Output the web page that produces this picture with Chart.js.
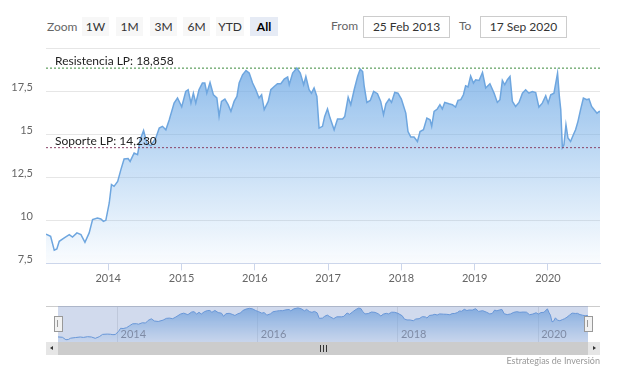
<!DOCTYPE html>
<html>
<head>
<meta charset="utf-8">
<script src="https://cdn.jsdelivr.net/npm/chart.js@4"></script>
<style>
  body { margin: 0; background: #fff; font-family: Lato, "Open Sans", sans-serif; }
  #wrap { position: relative; width: 619px; height: 375px; overflow: hidden; }
  .abs { position: absolute; }
  .txt { color: #666; font-size: 12px; line-height: 20px; }
  .btn { top: 17px; height: 19px; line-height: 19px; text-align: center; font-size: 12px; color: #333; background: #f7f7f7; }
  .btn.on { background: #e6ebf5; font-weight: bold; color: #000; }
  .box { top: 16px; height: 20px; line-height: 20px; border: 1px solid #ccc; text-align: center; font-size: 12px; color: #333; }
  canvas { position: absolute; left: 0; }
</style>
</head>
<body>
<div id="wrap">
  <span class="abs txt" style="left:47px;top:17px">Zoom</span>
  <div class="abs btn" style="left:82px;width:27px">1W</div>
  <div class="abs btn" style="left:116px;width:27px">1M</div>
  <div class="abs btn" style="left:150px;width:27px">3M</div>
  <div class="abs btn" style="left:183px;width:27px">6M</div>
  <div class="abs btn" style="left:216px;width:28px">YTD</div>
  <div class="abs btn on" style="left:250px;width:28px">All</div>
  <span class="abs txt" style="left:331px;top:16px">From</span>
  <div class="abs box" style="left:363px;width:85px">25 Feb 2013</div>
  <span class="abs txt" style="left:459px;top:16px">To</span>
  <div class="abs box" style="left:480px;width:85px">17 Sep 2020</div>

  <canvas id="main" width="619" height="256" style="top:40px"></canvas>
  <canvas id="nav" width="619" height="36" style="top:306px"></canvas>

  <!-- navigator decorations -->
  <div class="abs" style="left:46px;top:306px;width:554px;height:1px;background:#ccc"></div>
  <div class="abs" style="left:58px;top:306px;width:530px;height:36px;background:rgba(102,133,194,0.3)"></div>
  <div class="abs" style="left:54px;top:316px;width:7px;height:14px;background:#f2f2f2;border:1px solid #999"></div>
  <div class="abs" style="left:57px;top:320px;width:0;height:7px;border-left:1px solid #999"></div>
  <div class="abs" style="left:584px;top:316px;width:7px;height:14px;background:#f2f2f2;border:1px solid #999"></div>
  <div class="abs" style="left:587px;top:320px;width:0;height:7px;border-left:1px solid #999"></div>
  <!-- scrollbar -->
  <div class="abs" style="left:46px;top:342px;width:554px;height:13px;background:#f2f2f2"></div>
  <div class="abs" style="left:58px;top:342px;width:530px;height:13px;background:#ccc"></div>
  <div class="abs" style="left:46px;top:342px;width:12px;height:13px;background:#e6e6e6"></div>
  <div class="abs" style="left:588px;top:342px;width:12px;height:13px;background:#e6e6e6"></div>
  <div class="abs" style="left:50px;top:346px;width:0;height:0;border-top:2.5px solid transparent;border-bottom:2.5px solid transparent;border-right:3px solid #333"></div>
  <div class="abs" style="left:593px;top:346px;width:0;height:0;border-top:2.5px solid transparent;border-bottom:2.5px solid transparent;border-left:3px solid #333"></div>
  <div class="abs" style="left:320px;top:345px;width:1px;height:7px;background:#333"></div>
  <div class="abs" style="left:323px;top:345px;width:1px;height:7px;background:#333"></div>
  <div class="abs" style="left:326px;top:345px;width:1px;height:7px;background:#333"></div>

  <span class="abs" style="right:19px;top:355px;font-size:9px;color:#999;line-height:12px">Estrategias de Inversión</span>
</div>

<script>
const dates = [
  '2013-02-25','2013-03-20','2013-04-07','2013-04-20','2013-05-02','2013-05-27','2013-06-21','2013-07-07',
  '2013-07-29','2013-08-18','2013-09-07','2013-09-28','2013-10-15','2013-11-08','2013-11-25','2013-12-08',
  '2013-12-20','2014-01-06','2014-01-17','2014-01-30','2014-02-17','2014-03-05','2014-03-21','2014-04-10',
  '2014-04-20','2014-05-10','2014-05-27','2014-06-09','2014-06-26','2014-07-12','2014-08-01','2014-08-26',
  '2014-09-12','2014-09-28','2014-10-15','2014-11-01','2014-11-25','2014-12-12','2015-01-02','2015-01-22',
  '2015-02-03','2015-02-17','2015-03-01','2015-03-13','2015-03-29','2015-04-15','2015-04-27','2015-05-07',
  '2015-05-23','2015-06-09','2015-06-26','2015-07-07','2015-07-19','2015-08-05','2015-08-21','2015-09-04',
  '2015-09-20','2015-10-04','2015-10-15','2015-11-01','2015-11-18','2015-12-04','2015-12-21','2016-01-06',
  '2016-01-22','2016-02-04','2016-02-17','2016-03-08','2016-03-21','2016-04-07','2016-04-23','2016-05-10',
  '2016-05-27','2016-06-13','2016-06-21','2016-07-08','2016-07-29','2016-08-15','2016-09-01','2016-09-12',
  '2016-09-28','2016-10-10','2016-10-23','2016-11-06','2016-11-17','2016-12-04','2016-12-15','2016-12-29',
  '2017-01-11','2017-01-31','2017-02-17','2017-03-14','2017-03-25','2017-04-11','2017-04-24','2017-05-11',
  '2017-05-28','2017-06-10','2017-06-22','2017-06-30','2017-07-13','2017-07-30','2017-08-16','2017-09-04',
  '2017-09-20','2017-10-04','2017-10-16','2017-11-01','2017-11-13','2017-11-29','2017-12-15','2018-01-01',
  '2018-01-23','2018-02-03','2018-02-17','2018-03-05','2018-03-22','2018-04-04','2018-04-21','2018-05-08',
  '2018-05-24','2018-06-01','2018-06-13','2018-06-29','2018-07-12','2018-07-24','2018-08-05','2018-08-26',
  '2018-09-12','2018-09-28','2018-10-10','2018-10-24','2018-11-06','2018-11-17','2018-11-29','2018-12-12',
  '2018-12-26','2019-01-06','2019-01-23','2019-02-09','2019-02-25','2019-03-18','2019-04-08','2019-04-24',
  '2019-05-07','2019-05-19','2019-05-31','2019-06-13','2019-06-26','2019-07-08','2019-07-24','2019-08-10',
  '2019-08-27','2019-09-12','2019-09-28','2019-10-15','2019-11-01','2019-11-17','2019-12-04','2019-12-21',
  '2020-01-02','2020-01-15','2020-01-31','2020-02-18','2020-02-27','2020-03-05','2020-03-13','2020-03-21',
  '2020-03-31','2020-04-10','2020-04-23','2020-05-07','2020-05-18','2020-05-30','2020-06-12','2020-06-26',
  '2020-07-13','2020-07-24','2020-08-06','2020-08-19','2020-09-02','2020-09-13','2020-09-17'
];
const prices = [
  9.2, 9.07, 8.26, 8.34, 8.78, 8.98, 9.17, 9.03,
  9.27, 9.17, 8.72, 9.27, 10.04, 10.14, 10.08, 9.94,
  10.0, 11.01, 12.08, 11.98, 12.27, 12.95, 13.57, 13.6,
  13.43, 13.92, 13.82, 14.69, 15.23, 14.5, 14.34, 14.79,
  15.37, 15.47, 15.27, 15.85, 16.82, 17.12, 16.6, 17.5,
  17.6, 16.82, 17.4, 16.82, 17.6, 17.99, 17.99, 17.4,
  18.02, 17.3, 17.12, 16.05, 16.92, 17.06, 16.73, 16.34,
  16.92, 17.21, 17.99, 18.47, 18.72, 18.57, 17.99, 17.6,
  17.12, 17.31, 16.44, 16.92, 17.6, 17.79, 17.95, 17.95,
  18.22, 18.34, 17.89, 18.57, 18.86, 18.57, 17.89, 18.37,
  17.6, 17.4, 17.7, 17.21, 15.37, 15.47, 16.05, 16.48,
  15.95, 15.27, 15.9, 15.9, 16.05, 17.17, 16.73, 17.6,
  18.37, 18.8, 18.66, 17.79, 16.86, 16.98, 17.5, 17.37,
  16.92, 16.15, 16.78, 17.06, 16.86, 17.44, 17.4, 17.06,
  16.24, 15.17, 14.85, 14.85, 14.59, 15.17, 15.27, 15.95,
  15.85, 15.47, 16.34, 16.48, 16.73, 16.48, 16.86, 16.78,
  16.73, 16.59, 16.98, 17.02, 17.31, 17.83, 17.76, 18.4,
  17.99, 18.18, 18.14, 18.6, 17.7, 17.95, 17.4, 16.86,
  17.02, 18.14, 17.89, 18.18, 18.37, 16.92, 16.63, 16.86,
  17.4, 17.6, 17.4, 17.5, 17.44, 16.59, 16.82, 17.25,
  16.82, 17.31, 17.4, 18.57, 17.21, 16.44, 14.23, 14.4,
  15.56, 14.79, 14.59, 14.98, 15.27, 15.76, 16.44, 17.12,
  17.02, 17.06, 16.63, 16.44, 16.24, 16.34, 16.3
];
const yearTicks = [2014, 2015, 2016, 2017, 2018, 2019, 2020];
const navYearTicks = [2014, 2016, 2018, 2020];
const yTicks = [7.5, 10, 12.5, 15, 17.5, 20];
const refLines = [
  { label: 'Resistencia LP', value: 18.858, color: '#3c8a3c' },
  { label: 'Soporte LP', value: 14.230, color: '#8a4467' }
];

// date string -> decimal year, so a plain linear axis can be used (no date adapter)
function toYear(s) {
  const d = Date.parse(s + 'T00:00:00Z');
  const y = +s.slice(0, 4);
  const a = Date.UTC(y, 0, 1), b = Date.UTC(y + 1, 0, 1);
  return y + (d - a) / (b - a);
}

const xMin = toYear(dates[0]);
const xMax = toYear(dates[dates.length - 1]);
const points = dates.map((d, i) => ({ x: toYear(d), y: prices[i] }));
const fmt = v => String(v).replace('.', ',');

function areaFill(top, bottom) {
  return ctx => {
    const { chart } = ctx;
    const area = chart.chartArea;
    if (!area) return 'rgba(124,181,236,0.5)';
    const g = chart.ctx.createLinearGradient(0, area.top, 0, area.bottom);
    g.addColorStop(0, top);
    g.addColorStop(1, bottom);
    return g;
  };
}

const refLabels = {
  id: 'refLabels',
  afterDatasetsDraw(chart) {
    const { ctx, chartArea, scales } = chart;
    ctx.save();
    ctx.font = '12px Lato, sans-serif';
    ctx.fillStyle = '#222';
    ctx.textBaseline = 'alphabetic';
    refLines.forEach(r => {
      const y = scales.y.getPixelForValue(r.value);
      ctx.fillText(r.label + ': ' + r.value.toFixed(3).replace('.', ','), chartArea.left + 9, y - 3);
    });
    ctx.restore();
  }
};

// navigator year labels sit inside the plot, just right of each gridline
const navLabels = {
  id: 'navLabels',
  afterDatasetsDraw(chart) {
    const { ctx, chartArea, scales } = chart;
    ctx.save();
    ctx.font = '11px Lato, sans-serif';
    ctx.fillStyle = '#8a8f99';
    ctx.textBaseline = 'alphabetic';
    navYearTicks.forEach(v => {
      ctx.fillText(String(v), scales.x.getPixelForValue(v) + 3, chartArea.bottom - 4);
    });
    ctx.restore();
  }
};

new Chart(document.getElementById('main'), {
  type: 'line',
  data: {
    datasets: [
      ...refLines.map(r => ({
        data: [{ x: xMin, y: r.value }, { x: xMax, y: r.value }],
        borderColor: r.color,
        borderWidth: 1,
        borderDash: [2, 2],
        pointRadius: 0,
        fill: false,
        order: 0
      })),
      {
        data: points,
        borderColor: '#6ea6df',
        borderWidth: 1.5,
        pointRadius: 0,
        tension: 0,
        fill: 'start',
        backgroundColor: areaFill('rgba(110,168,228,0.85)', 'rgba(124,181,236,0.04)'),
        order: 1
      }
    ]
  },
  options: {
    responsive: false,
    animation: false,
    devicePixelRatio: 1,
    layout: { padding: { top: 8.5, right: 19, left: 0, bottom: 0 } },
    plugins: { legend: { display: false }, tooltip: { enabled: false } },
    scales: {
      x: {
        type: 'linear',
        min: xMin,
        max: xMax,
        afterBuildTicks: a => { a.ticks = yearTicks.map(v => ({ value: v })); },
        afterFit: a => { a.height = 32.7; a.paddingLeft = 0; a.paddingRight = 0; },
        grid: { drawOnChartArea: false, drawTicks: true, tickLength: 7, color: '#ccd6eb' },
        border: { color: '#ccd6eb' },
        ticks: { padding: 2, color: '#666', font: { family: 'Lato', size: 11 }, maxRotation: 0, callback: v => String(v) }
      },
      y: {
        min: 7.5,
        max: 20,
        afterBuildTicks: a => { a.ticks = yTicks.map(v => ({ value: v })); },
        afterFit: a => { a.width = 46; a.paddingTop = 0; a.paddingBottom = 0; },
        grid: { color: '#e6e6e6', drawTicks: false },
        border: { display: false },
        ticks: { padding: 13, labelOffset: -4, color: '#666', font: { family: 'Lato', size: 11 }, callback: v => v === 20 ? '' : fmt(v) }
      }
    }
  },
  plugins: [refLabels]
});

new Chart(document.getElementById('nav'), {
  type: 'line',
  data: {
    datasets: [{
      data: points,
      borderColor: '#6a9fe0',
      borderWidth: 1,
      pointRadius: 0,
      fill: 'start',
      backgroundColor: areaFill('rgba(110,168,228,0.8)', 'rgba(124,181,236,0.1)')
    }]
  },
  options: {
    responsive: false,
    animation: false,
    devicePixelRatio: 1,
    layout: { padding: { top: 0, right: 31, left: 58, bottom: 0 } },
    plugins: { legend: { display: false }, tooltip: { enabled: false } },
    scales: {
      x: {
        type: 'linear',
        min: xMin,
        max: xMax,
        afterBuildTicks: a => { a.ticks = navYearTicks.map(v => ({ value: v })); },
        afterFit: a => { a.height = 0; a.paddingLeft = 0; a.paddingRight = 0; },
        grid: { color: '#e6e6e6', drawTicks: false },
        border: { display: false },
        ticks: { display: false }
      },
      y: { display: false, min: 7.5, max: 19.5 }
    }
  },
  plugins: [navLabels]
});
</script>
</body>
</html>
